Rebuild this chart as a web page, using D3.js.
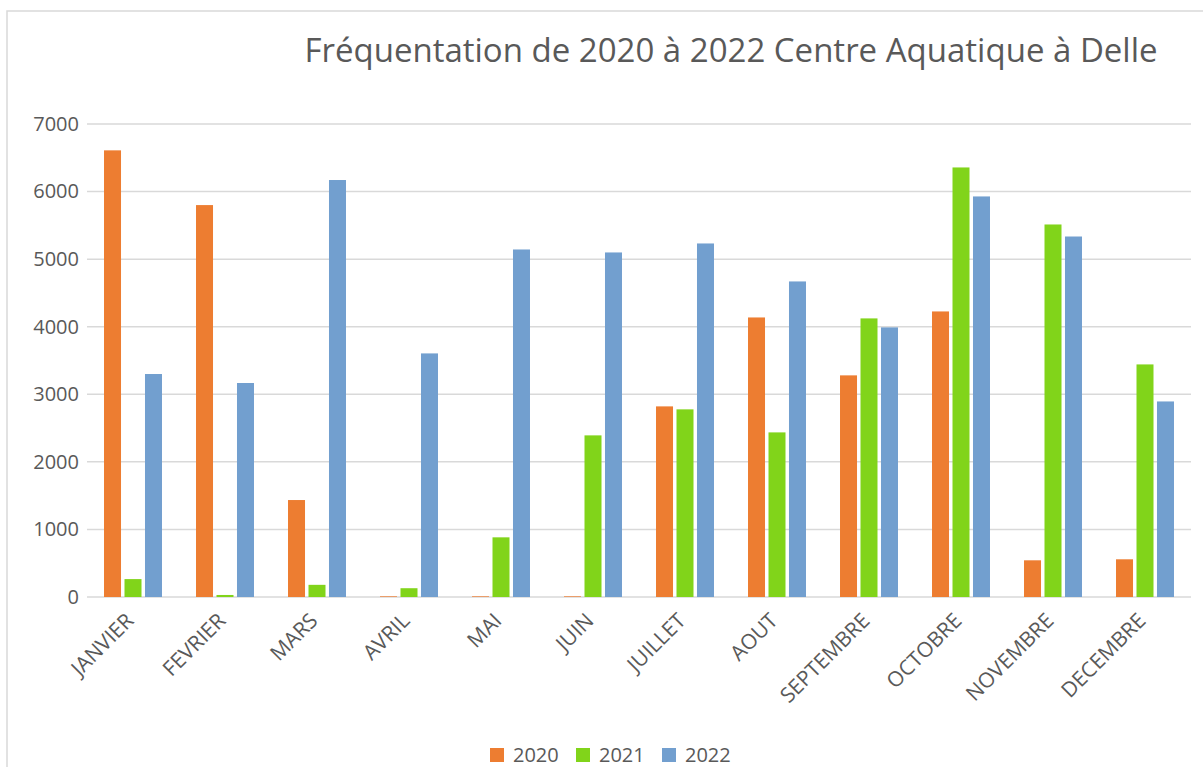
<!DOCTYPE html>
<html>
<head>
<meta charset="utf-8">
<script src="https://cdn.jsdelivr.net/npm/d3@7"></script>
<style>
  html, body { margin: 0; padding: 0; background: #fff; }
  svg { display: block; }
</style>
</head>
<body>
<svg id="chart" width="1203" height="767"></svg>
<script>
// Fréquentation Centre Aquatique — grouped bars by month

const months = ['JANVIER', 'FEVRIER', 'MARS', 'AVRIL', 'MAI', 'JUIN',
  'JUILLET', 'AOUT', 'SEPTEMBRE', 'OCTOBRE', 'NOVEMBRE', 'DECEMBRE'];
const seriesNames = ['2020', '2021', '2022'];
const values2020 = [6610, 5800, 1435, 10, 10, 10, 2821, 4137, 3280, 4226, 543, 558];
const values2021 = [265, 30, 180, 130, 883, 2392, 2777, 2436, 4123, 6357, 5513, 3442];
const values2022 = [3300, 3167, 6171, 3605, 5143, 5099, 5232, 4670, 3990, 5928, 5335, 2894];
const yTicks = [0, 1000, 2000, 3000, 4000, 5000, 6000, 7000];
const colours = ['#ED7D31', '#81D41A', '#729FCF'];
const titleText = 'Fréquentation de 2020 à 2022 Centre Aquatique à Delle';

const FONT = '"Open Sans", "Liberation Sans", sans-serif';
const TEXT_COL = '#595959';
const GRID_COL = '#d9d9d9';

const svg = d3.select('#chart');

// plot area
const plot = { left: 87, right: 1191, top: 124, bottom: 597 };

// chart border (extends off the right / bottom edges)
svg.append('rect')
  .attr('x', 7).attr('y', 11)
  .attr('width', 1300).attr('height', 900)
  .attr('fill', '#fff')
  .attr('stroke', GRID_COL)
  .attr('stroke-width', 1.5);

// title
svg.append('text')
  .attr('x', 731).attr('y', 62)
  .attr('text-anchor', 'middle')
  .attr('font-family', FONT)
  .attr('font-size', '33px')
  .attr('fill', TEXT_COL)
  .text(titleText);

const y = d3.scaleLinear().domain([0, 7000]).range([plot.bottom, plot.top]);
const x0 = d3.scaleBand().domain(months).range([plot.left, plot.right]);
const groupW = x0.bandwidth() * 0.668;
const x1 = d3.scaleBand().domain(seriesNames)
  .range([(x0.bandwidth() - groupW) / 2, (x0.bandwidth() + groupW) / 2])
  .paddingInner(0.17).paddingOuter(0.085);

// gridlines
svg.append('g')
  .selectAll('line')
  .data(yTicks)
  .enter()
  .append('line')
  .attr('x1', plot.left).attr('x2', plot.right)
  .attr('y1', d => y(d)).attr('y2', d => y(d))
  .attr('stroke', GRID_COL)
  .attr('stroke-width', 1.5);

// y axis labels
const yAxis = svg.append('g')
  .attr('transform', `translate(${plot.left - 8},0)`)
  .call(d3.axisLeft(y).tickValues(yTicks).tickSize(0).tickPadding(0).tickFormat(d3.format('d')));
yAxis.select('.domain').remove();
yAxis.selectAll('text')
  .attr('font-family', FONT)
  .attr('font-size', '20px')
  .attr('fill', TEXT_COL);

// bars
const allSeries = [values2020, values2021, values2022];
const groups = svg.append('g').attr('id', 'bars')
  .selectAll('g')
  .data(months)
  .enter()
  .append('g')
  .attr('transform', d => `translate(${x0(d)},0)`);

groups.selectAll('rect')
  .data((m, i) => seriesNames.map((s, k) => ({ s, k, v: allSeries[k][i] })))
  .enter()
  .append('rect')
  .attr('x', d => x1(d.s))
  .attr('width', x1.bandwidth())
  .attr('y', d => y(d.v))
  .attr('height', d => y(0) - y(d.v))
  .attr('fill', d => colours[d.k]);

// x axis labels, rotated
const xAxis = svg.append('g')
  .attr('transform', `translate(0,${plot.bottom})`)
  .call(d3.axisBottom(x0).tickSize(0).tickPadding(0));
xAxis.select('.domain').remove();
xAxis.selectAll('text')
  .attr('font-family', FONT)
  .attr('font-size', '21px')
  .attr('fill', TEXT_COL)
  .attr('text-anchor', 'end')
  .attr('dy', null)
  .attr('transform', 'translate(2,25) rotate(-45)');

// legend
const legend = svg.append('g').attr('transform', 'translate(490,748)');
const items = legend.selectAll('g')
  .data(seriesNames)
  .enter()
  .append('g')
  .attr('transform', (d, i) => `translate(${i * 86},0)`);
items.append('rect')
  .attr('width', 14).attr('height', 14)
  .attr('fill', (d, i) => colours[i]);
items.append('text')
  .attr('x', 23).attr('y', 14)
  .attr('font-family', FONT)
  .attr('font-size', '20px')
  .attr('fill', TEXT_COL)
  .text(d => d);
</script>
</body>
</html>
